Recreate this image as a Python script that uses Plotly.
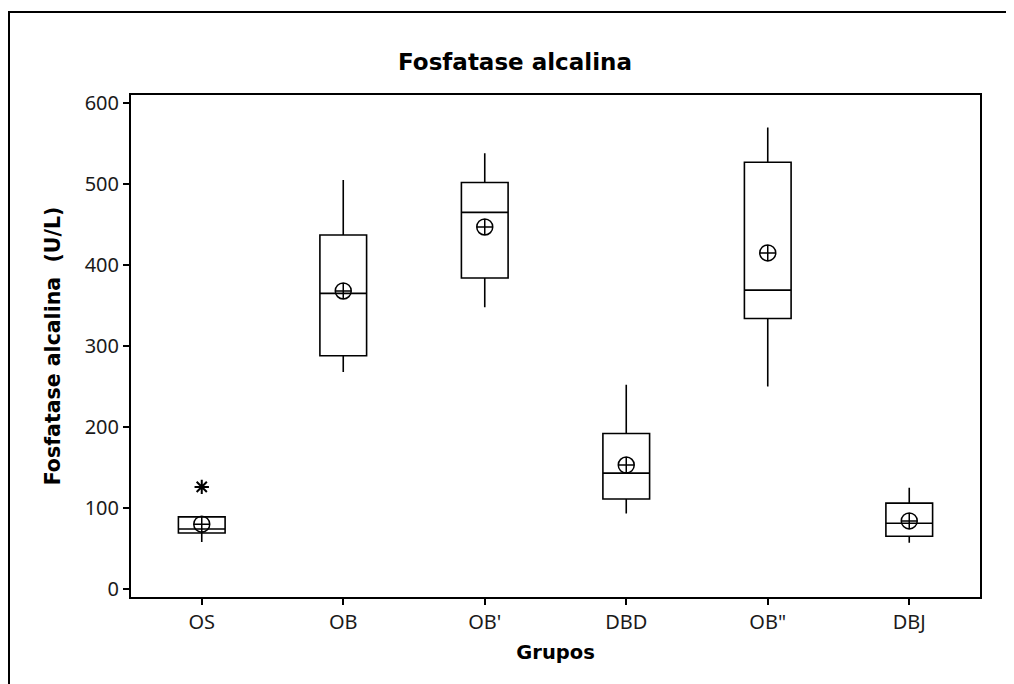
import plotly.graph_objects as go

groups = ["OS", "OB", "OB'", "DBD", "OB\"", "DBJ"]
lower_whisker = [58, 268, 348, 93, 250, 57]
q1 = [69, 288, 384, 111, 334, 65]
median = [74, 365, 465, 143, 369, 81]
q3 = [89, 437, 502, 192, 527, 106]
upper_whisker = [90, 505, 538, 252, 570, 125]
means = [80, 368, 447, 153, 415, 84]
outlier_group = ["OS"]
outlier_value = [126]

y_ticks = [0, 100, 200, 300, 400, 500, 600]

TICKFONT = "Noto Sans"
BOLDFONT = "DejaVu Sans"
fig = go.Figure()

fig.add_trace(go.Box(
    x=groups, q1=q1, median=median, q3=q3,
    lowerfence=lower_whisker, upperfence=upper_whisker,
    width=0.33, whiskerwidth=0,
    fillcolor="rgba(0,0,0,0)",
    line=dict(color="black", width=1.6),
    boxpoints=False, showlegend=False, hoverinfo="skip",
))

fig.add_trace(go.Scatter(
    x=groups, y=means, mode="markers",
    marker=dict(symbol="circle-cross-open", size=16, color="black",
                line=dict(width=1.5, color="black")),
    showlegend=False,
))

fig.add_trace(go.Scatter(
    x=outlier_group, y=outlier_value, mode="markers",
    marker=dict(symbol="asterisk-open", size=12, color="black",
                line=dict(width=2, color="black")),
    showlegend=False,
))

# page body has an 8px margin, so figure coords = screen coords - 8
OFF = 8
FW, FH = 1014, 684
L, T = 131 - OFF, 95 - OFF
R = FW - (980 - OFF)
B = FH - (597 - OFF)
W = FW - L - R
H = FH - T - B

fig.update_layout(
    width=FW, height=FH,
    margin=dict(l=L, r=R, t=T, b=B),
    paper_bgcolor="white", plot_bgcolor="white",
    font=dict(family=TICKFONT, size=20, color="#1a1a1a"),
    title=dict(text="<b>Fosfatase alcalina</b>", x=(515 - OFF) / FW, xanchor="center",
               y=1 - (62 - OFF) / FH, yanchor="middle",
               font=dict(family=BOLDFONT, size=23, color="black")),
    xaxis=dict(
        type="category", categoryorder="array", categoryarray=groups,
        range=[-0.5, 5.5], showgrid=False, zeroline=False,
        showline=True, linecolor="black", linewidth=2, mirror=True,
        ticks="outside", ticklen=6, tickwidth=1.5, tickcolor="black",
        tickfont=dict(family=TICKFONT, size=20, color="#1a1a1a"),
        title=dict(text="<b>Grupos</b>", standoff=11,
                   font=dict(family=BOLDFONT, size=19.5, color="black")),
    ),
    yaxis=dict(
        range=[-10, 610], tickvals=y_ticks, showgrid=False, zeroline=False,
        showline=True, linecolor="black", linewidth=2, mirror=True,
        ticks="outside", ticklen=6, tickwidth=1.5, tickcolor="black",
        tickfont=dict(family=TICKFONT, size=20, color="#1a1a1a"),
        title=dict(text="<b>Fosfatase alcalina  (U/L)</b>", standoff=18,
                   font=dict(family=BOLDFONT, size=20.5, color="black")),
    ),
    shapes=[dict(
        type="rect", xref="paper", yref="paper",
        x0=(9 - OFF - L) / W, x1=(1100 - L) / W,
        y0=-(800 - (FH - B)) / H, y1=((FH - B) - (12 - OFF)) / H,
        line=dict(color="black", width=2), fillcolor="rgba(0,0,0,0)",
        layer="above",
    )],
)

fig.write_html("out.html")
